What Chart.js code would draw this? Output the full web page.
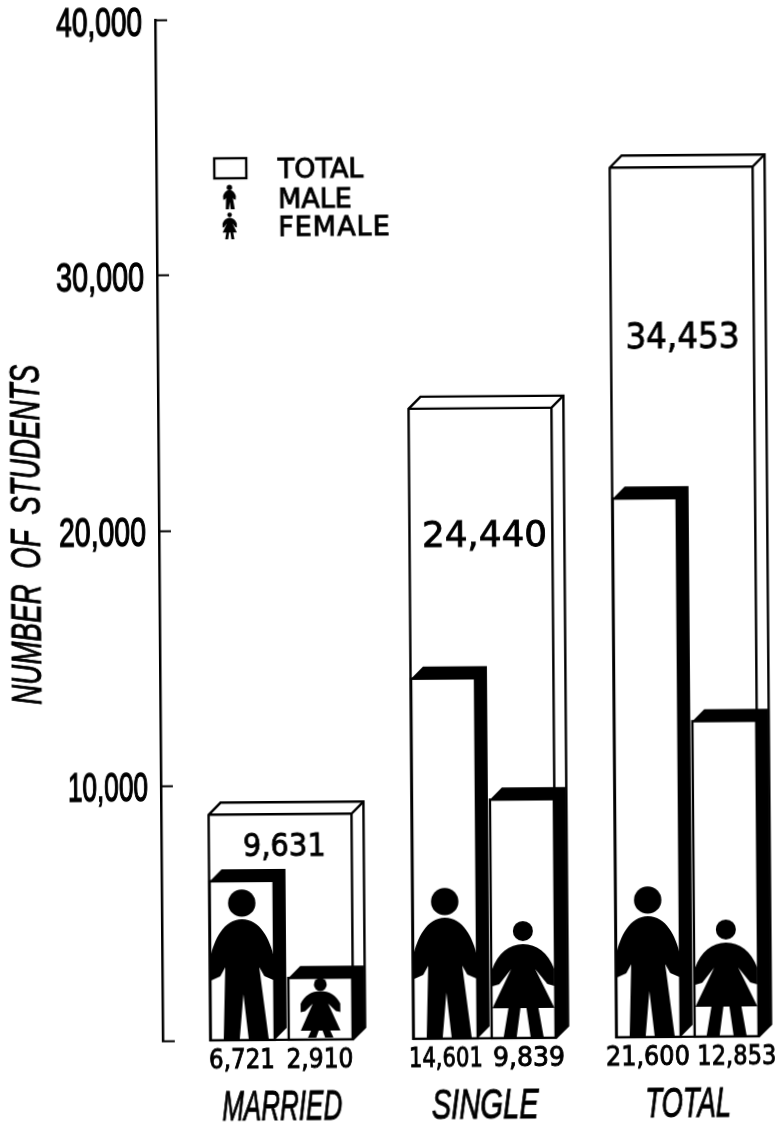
<!DOCTYPE html>
<html>
<head>
<meta charset="utf-8">
<title>Number of students</title>
<script src="https://cdn.jsdelivr.net/npm/chart.js@4"></script>
<style>
  html, body { margin: 0; background: #fff; overflow: hidden; }
  /* the reference is a slightly crooked scan */
  #chart { display: block; transform-origin: 0 0; transform: rotate(-0.43deg); }
</style>
</head>
<body>
<canvas id="chart" width="783" height="1126"></canvas>
<script>
const groups = ['MARRIED', 'SINGLE', 'TOTAL'];
const male = [6721, 14601, 21600];
const female = [2910, 9839, 12853];
// printed figures for the outer box, and the height the box is really drawn at
const totalPrinted = [9631, 24440, 34453];
const totalDrawn = [9330, 25180, 34570];
const yTickValues = [0, 10000, 20000, 30000, 40000];
const yTickLabels = ['', '10,000', '20,000', '30,000', '40,000'];

const fmt = (v) => v.toLocaleString('en-US');
const INK = '#000';
const DX = 12, DY = 12; // depth of the fake 3d boxes
const NARROW = '"Liberation Sans Narrow", "Liberation Sans", sans-serif';
const ROUND = '"DejaVu Sans", sans-serif';

function text(ctx, str, x, y, font, width, align = 'center', weight = 0.9) {
  ctx.font = font;
  ctx.textAlign = align;
  ctx.textBaseline = 'alphabetic';
  ctx.fillStyle = INK;
  ctx.strokeStyle = INK;
  ctx.lineWidth = weight;
  ctx.fillText(str, x, y, width);
  if (weight) ctx.strokeText(str, x, y, width);
}

function maleFigure(ctx, cx, base, sx, sy) {
  const X = (x) => cx + x * sx, Y = (u) => base - u * sy;
  ctx.fillStyle = INK;
  ctx.beginPath();
  ctx.arc(X(0), Y(136), 13.7 * sx, 0, Math.PI * 2);
  ctx.fill();
  ctx.beginPath();
  ctx.moveTo(X(0), Y(120));
  ctx.bezierCurveTo(X(-18), Y(120), X(-28), Y(100), X(-32), Y(81));
  ctx.lineTo(X(-31), Y(59));
  ctx.lineTo(X(-22), Y(63));
  ctx.lineTo(X(-17), Y(72));
  ctx.lineTo(X(-19), Y(0));
  ctx.lineTo(X(-3), Y(0));
  ctx.lineTo(X(1), Y(45));
  ctx.lineTo(X(6), Y(0));
  ctx.lineTo(X(26), Y(0));
  ctx.lineTo(X(17), Y(72));
  ctx.lineTo(X(22), Y(63));
  ctx.lineTo(X(31), Y(59));
  ctx.lineTo(X(32), Y(81));
  ctx.bezierCurveTo(X(28), Y(100), X(18), Y(120), X(0), Y(120));
  ctx.fill();
}

function femaleFigure(ctx, cx, base, sx, sy, hem = 29) {
  const X = (x) => cx + x * sx, Y = (u) => base - u * sy;
  ctx.fillStyle = INK;
  ctx.beginPath();
  ctx.arc(X(0), Y(106), 10 * sx, 0, Math.PI * 2);
  ctx.fill();
  ctx.beginPath();
  ctx.moveTo(X(0), Y(93));
  ctx.bezierCurveTo(X(-14), Y(93), X(-25), Y(84), X(-31), Y(68));
  ctx.lineTo(X(-31), Y(51));
  ctx.lineTo(X(-24), Y(53));
  ctx.lineTo(X(-12), Y(68));
  ctx.lineTo(X(-31), Y(hem));
  ctx.lineTo(X(-15), Y(hem));
  ctx.lineTo(X(-20), Y(0));
  ctx.lineTo(X(-7), Y(0));
  ctx.lineTo(X(-3), Y(hem));
  ctx.lineTo(X(3), Y(hem));
  ctx.lineTo(X(7), Y(0));
  ctx.lineTo(X(20), Y(0));
  ctx.lineTo(X(15), Y(hem));
  ctx.lineTo(X(31), Y(hem));
  ctx.lineTo(X(12), Y(68));
  ctx.lineTo(X(24), Y(53));
  ctx.lineTo(X(31), Y(51));
  ctx.lineTo(X(31), Y(68));
  ctx.bezierCurveTo(X(25), Y(84), X(14), Y(93), X(0), Y(93));
  ctx.fill();
}

function poly(ctx, pts) {
  ctx.beginPath();
  pts.forEach(([x, y], i) => (i ? ctx.lineTo(x, y) : ctx.moveTo(x, y)));
  ctx.closePath();
}

// the bar's value is the back edge of the box, its front face sits DY lower
function drawTotalBox(ctx, bar) {
  const x0 = bar.x - bar.width / 2, x1 = bar.x + bar.width / 2;
  const yb = bar.y, yf = bar.y + DY, base = bar.base;
  ctx.strokeStyle = INK;
  ctx.lineWidth = 2.4;
  ctx.lineJoin = 'miter';
  ctx.fillStyle = '#fff';
  poly(ctx, [[x0, yf], [x0 + DX, yb], [x1 + DX, yb], [x1 + DX, base - DY], [x1, base], [x0, base]]);
  ctx.fill();
  ctx.stroke();
  ctx.beginPath();
  ctx.moveTo(x0, yf);
  ctx.lineTo(x1, yf);
  ctx.lineTo(x1 + DX, yb);
  ctx.moveTo(x1, yf);
  ctx.lineTo(x1, base);
  ctx.stroke();
}

function drawBlackBox(ctx, bar) {
  const x0 = bar.x - bar.width / 2, x1 = bar.x + bar.width / 2;
  const yb = bar.y, yf = bar.y + DY, base = bar.base;
  ctx.fillStyle = '#fff';
  ctx.fillRect(x0, yf, bar.width, base - yf);
  ctx.fillStyle = INK;
  poly(ctx, [[x0, yf], [x0 + DX, yb], [x1 + DX, yb], [x1 + DX, base - DY], [x1, base], [x1, yf]]);
  ctx.fill();
  ctx.strokeStyle = INK;
  ctx.lineWidth = 2.4;
  ctx.strokeRect(x0, yf, bar.width, base - yf);
}

const boxesPlugin = {
  id: 'boxes',
  afterDatasetsDraw(chart) {
    const { ctx, scales } = chart;
    const totals = chart.getDatasetMeta(0).data;
    const males = chart.getDatasetMeta(1).data;
    const females = chart.getDatasetMeta(2).data;
    ctx.save();
    totals.forEach((bar) => drawTotalBox(ctx, bar));
    groups.forEach((g, i) => {
      drawBlackBox(ctx, males[i]);
      drawBlackBox(ctx, females[i]);
      maleFigure(ctx, males[i].x, males[i].base - 1, 1, 1);
      if (i === 0) femaleFigure(ctx, females[i].x, females[i].base - 2, 0.64, 0.5, 14);
      else femaleFigure(ctx, females[i].x, females[i].base - 1, 1, 1);
    });

    // figure printed inside each outer box
    const totalFont = [32, 36, 35];
    const totalWidth = [83, 125, 114];
    const totalDx = [4, 3.5, 0];
    const totalY = [858, 550, 353];
    totalPrinted.forEach((v, i) => {
      text(ctx, fmt(v), totals[i].x + totalDx[i], totalY[i], `${totalFont[i]}px ${ROUND}`, totalWidth[i]);
    });

    // figures under the bars
    const base = scales.y.getPixelForValue(0);
    const maleW = [66, 74, 84], femaleW = [67, 72, 79];
    const maleDx = [-1, 0, -1], femaleDx = [-1, 5, 10];
    groups.forEach((g, i) => {
      text(ctx, fmt(male[i]), males[i].x + maleDx[i], base + 28, `26px ${ROUND}`, maleW[i]);
      text(ctx, fmt(female[i]), females[i].x + femaleDx[i], base + 28, `26px ${ROUND}`, femaleW[i]);
    });

    // group names on the x axis
    const nameW = [120, 107, 86];
    groups.forEach((g, i) => {
      text(ctx, g, scales.x.getPixelForValue(i), base + 80, `italic 42px ${NARROW}`, nameW[i], 'center', 1);
    });

    // y tick labels
    const tickW = [0, 80, 87, 88, 86];
    yTickValues.forEach((v, i) => {
      if (yTickLabels[i]) {
        text(ctx, yTickLabels[i], 142, scales.y.getPixelForValue(v) + 15, `40px ${NARROW}`, tickW[i], 'right', 1.3);
      }
    });

    // y axis title
    ctx.save();
    ctx.translate(36, 535);
    ctx.rotate(-Math.PI / 2);
    text(ctx, 'NUMBER  OF  STUDENTS', 0, 0, `italic 42px ${NARROW}`, 340, 'center', 1);
    ctx.restore();

    // key
    ctx.strokeStyle = INK;
    ctx.lineWidth = 2.4;
    ctx.strokeRect(213, 160, 32, 20);
    maleFigure(ctx, 228, 211, 0.2, 0.16);
    femaleFigure(ctx, 228, 241, 0.23, 0.23);
    text(ctx, 'TOTAL', 276.5, 180, `27px ${ROUND}`, 87, 'left');
    text(ctx, 'MALE', 276.5, 210, `27px ${ROUND}`, 77, 'left');
    ctx.letterSpacing = '1px';
    text(ctx, 'FEMALE', 276.5, 238, `27px ${ROUND}`, 114, 'left');
    ctx.letterSpacing = '0px';
    ctx.restore();
  },
};

new Chart(document.getElementById('chart'), {
  type: 'bar',
  data: {
    datasets: [
      {
        label: 'TOTAL',
        grouped: false,
        data: totalDrawn.map((v, i) => ({ x: i, y: v })),
        backgroundColor: '#fff',
        categoryPercentage: 1,
        barPercentage: 0.704,
      },
      {
        label: 'MALE',
        data: male.map((v, i) => ({ x: i, y: v })),
        backgroundColor: '#fff',
        categoryPercentage: 0.768,
        barPercentage: 0.82,
      },
      {
        label: 'FEMALE',
        data: female.map((v, i) => ({ x: i, y: v })),
        backgroundColor: '#fff',
        categoryPercentage: 0.768,
        barPercentage: 0.82,
      },
    ],
  },
  options: {
    responsive: false,
    animation: false,
    layout: { padding: { top: 21.7, left: 0, right: 0, bottom: 0 } },
    plugins: { legend: { display: false }, tooltip: { enabled: false } },
    scales: {
      x: {
        type: 'linear',
        offset: false,
        min: -0.586,
        max: 2.508,
        afterFit: (s) => { s.height = 83.6; },
        grid: { display: false },
        border: { display: false },
        ticks: { display: false, stepSize: 1, includeBounds: false },
      },
      y: {
        min: 0,
        max: 40000,
        afterFit: (s) => { s.width = 155; },
        afterBuildTicks: (s) => { s.ticks = yTickValues.map((value) => ({ value })); },
        ticks: { display: false },
        border: { display: true, color: INK, width: 2.5 },
        grid: { drawOnChartArea: false, drawTicks: true, tickLength: -12, tickColor: INK, tickWidth: 2 },
      },
    },
  },
  plugins: [boxesPlugin],
});
</script>
</body>
</html>
